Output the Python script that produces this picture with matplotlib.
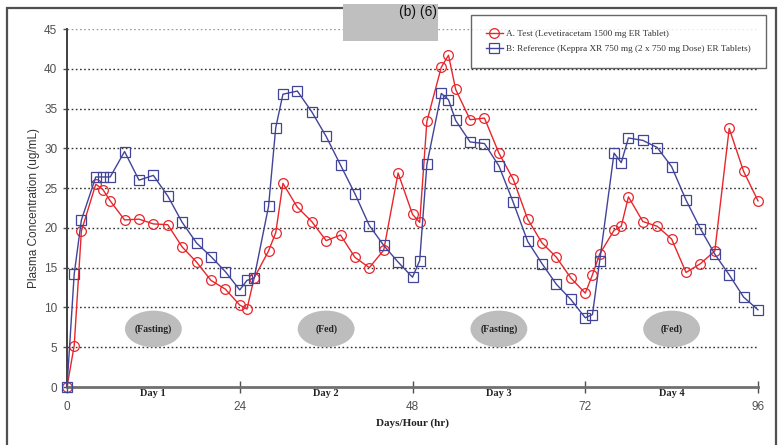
import matplotlib
matplotlib.use("Agg")
import matplotlib.pyplot as plt
from matplotlib.patches import Ellipse, Rectangle

# Sampling times (hours) over the four dosing days
hours = [0, 1, 2, 4, 5, 6, 8, 10, 12, 14, 16, 18, 20, 22, 24,
         25, 26, 28, 29, 30, 32, 34, 36, 38, 40, 42, 44, 46, 48,
         49, 50, 52, 53, 54, 56, 58, 60, 62, 64, 66, 68, 70, 72,
         73, 74, 76, 77, 78, 80, 82, 84, 86, 88, 90, 92, 94, 96]

# A: Test product mean plasma concentration (ug/mL)
test_conc = [0.0, 5.2, 19.6, 25.5, 24.8, 23.4, 21.0, 21.1, 20.5, 20.4, 17.6, 15.7, 13.4, 12.3, 10.3,
             9.8, 13.7, 17.1, 19.4, 25.6, 22.6, 20.8, 18.4, 19.1, 16.3, 15.0, 17.2, 26.9, 21.7,
             20.7, 33.4, 40.2, 41.7, 37.4, 33.6, 33.8, 29.4, 26.1, 21.1, 18.1, 16.3, 13.7, 11.8,
             14.1, 16.7, 19.7, 20.2, 23.9, 20.8, 20.2, 18.6, 14.4, 15.5, 17.1, 32.5, 27.1, 23.4]

# B: Reference product mean plasma concentration (ug/mL)
ref_conc = [0.0, 14.2, 21.0, 26.4, 26.4, 26.4, 29.6, 26.0, 26.6, 24.0, 20.7, 18.1, 16.4, 14.5, 12.2,
            13.4, 13.7, 22.7, 32.6, 36.8, 37.2, 34.6, 31.5, 27.9, 24.3, 20.3, 17.8, 15.7, 13.8,
            15.9, 28.0, 36.9, 36.1, 33.5, 30.8, 30.6, 27.8, 23.2, 18.3, 15.5, 12.9, 11.0, 8.7,
            9.1, 15.8, 29.4, 28.2, 31.3, 31.0, 30.1, 27.7, 23.5, 19.9, 16.7, 14.1, 11.3, 9.7]

series_labels = ["A. Test (Levetiracetam 1500 mg ER Tablet)",
                 "B: Reference (Keppra XR 750 mg (2 x 750 mg Dose) ER Tablets)"]

x_ticks = [0, 24, 48, 72, 96]
y_ticks = [0, 5, 10, 15, 20, 25, 30, 35, 40, 45]
day_labels = ["Day 1", "Day 2", "Day 3", "Day 4"]
day_centers = [12, 36, 60, 84]
condition_labels = ["(Fasting)", "(Fed)", "(Fasting)", "(Fed)"]

SERIF = "Liberation Serif"
SANS = "Liberation Sans"
RED = "#e8262b"
BLUE = "#424498"
GRAY_TXT = "#505050"

fig = plt.figure(figsize=(7.8, 4.45), dpi=100)
fig.patch.set_facecolor("white")

# outer frame of the chart area
fig.patches.append(Rectangle((7 / 780, -0.02), 769 / 780, 1.02 - 8 / 445,
                             transform=fig.transFigure, fill=False,
                             edgecolor="#505050", linewidth=1.6, zorder=0))

ax = fig.add_axes([67 / 780, 1 - 387 / 445, (758 - 67) / 780, (387 - 29) / 445])
ax.set_xlim(0, 96)
ax.set_ylim(0, 45)

# dotted horizontal gridlines
for yv in y_ticks[1:]:
    ax.axhline(yv, color="#333333" if yv < 45 else "#9a9a9a", linewidth=1.0,
               linestyle=(0, (1.2, 1.8)), zorder=1)

# shaded condition ellipses
for xc, lab in zip(day_centers, condition_labels):
    ax.add_patch(Ellipse((xc, 7.3), 7.9, 4.6, facecolor="#bdbdbd",
                         edgecolor="none", zorder=2))
    ax.text(xc, 7.3, lab, ha="center", va="center", fontsize=7,
            fontweight="bold", family=SERIF, color="#222222", zorder=3)

ax.plot(hours, test_conc, color=RED, linewidth=1.0, marker="o", markersize=7,
        markerfacecolor="none", markeredgecolor=RED, markeredgewidth=0.9,
        label=series_labels[0], clip_on=False, zorder=4)
ax.plot(hours, ref_conc, color=BLUE, linewidth=1.0, marker="s", markersize=6.5,
        markerfacecolor="none", markeredgecolor=BLUE, markeredgewidth=0.9,
        label=series_labels[1], clip_on=False, zorder=5)

for side in ("top", "right"):
    ax.spines[side].set_visible(False)
ax.spines["left"].set_color("#404040")
ax.spines["left"].set_linewidth(1.4)
ax.spines["bottom"].set_color("#707070")
ax.spines["bottom"].set_linewidth(2.0)

ax.set_yticks(y_ticks)
ax.set_yticklabels([str(v) for v in y_ticks])
ax.set_xticks(x_ticks)
ax.set_xticklabels([str(v) for v in x_ticks])
ax.tick_params(axis="y", direction="out", length=3, width=1, color="#505050",
               labelsize=8.5, labelcolor=GRAY_TXT, pad=4)
ax.tick_params(axis="x", direction="inout", length=8, width=1, color="#505050",
               labelsize=8.5, labelcolor=GRAY_TXT, pad=6)
for lab in ax.get_xticklabels() + ax.get_yticklabels():
    lab.set_family(SANS)

# day captions just under the axis
for xc, lab in zip(day_centers, day_labels):
    ax.text(xc, -0.3, lab, ha="center", va="top", fontsize=7.5,
            fontweight="bold", family=SERIF, color="#222222")

ax.set_xlabel("Days/Hour (hr)", fontsize=8, fontweight="bold", family=SERIF,
              color="#222222", labelpad=4)
ax.set_ylabel("Plasma Concentration (ug/mL)", fontsize=8.5, family=SANS,
              color="#333333", labelpad=3)

leg = ax.legend(loc="upper left", bbox_to_anchor=(471 / 780, 1 - 15 / 445),
                bbox_transform=fig.transFigure, prop={"family": SERIF, "size": 6.7},
                frameon=True, fancybox=False, numpoints=1, handlelength=1.8,
                borderpad=1.6, labelspacing=0.65, handletextpad=0.35,
                borderaxespad=0)
leg.get_frame().set_edgecolor("#404040")
leg.get_frame().set_linewidth(1.0)
for t in leg.get_texts():
    t.set_color("#333333")

# gray label tab at the top
fig.patches.append(Rectangle((343 / 780, 1 - 41 / 445), 95 / 780, 37 / 445,
                             transform=fig.transFigure, facecolor="#bfbfbf",
                             edgecolor="none", zorder=10))
fig.text(437 / 780, 1 - 5 / 445, "(b) (6)", ha="right", va="top", fontsize=10,
         family=SANS, color="#111111", zorder=11)

fig.savefig("out.png", dpi=100)
